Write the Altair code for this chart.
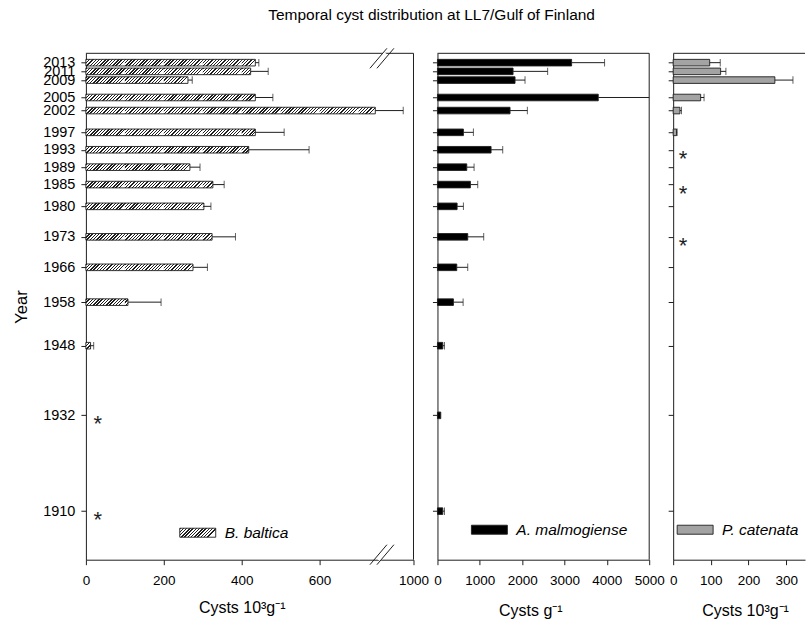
import altair as alt

# ---- data -----------------------------------------------------------------
YEARS = [1910, 1932, 1948, 1958, 1966, 1973, 1980, 1985,
         1989, 1993, 1997, 2002, 2005, 2009, 2011, 2013]

# B. baltica, cysts 10^3 g^-1 (None = not found)
BALTICA = [None, None, 12, 108, 275, 324, 303, 326,
           267, 418, 435, 743, 435, 262, 423, 435]
BALTICA_ERR = [None, None, 8, 85, 37, 60, 18, 29,
               26, 155, 74, 179, 45, 11, 45, 9]
BALTICA_ABSENT = [1910, 1932]

# A. malmogiense, cysts g^-1
MALMO = [126, 78, 126, 377, 456, 715, 464, 778,
         692, 1266, 613, 1714, 3797, 1832, 1785, 3168]
MALMO_ERR = [39, None, 39, 229, 259, 377, 149, 173,
             173, 275, 236, 409, 1800, 236, 817, 778]

# P. catenata, cysts 10^3 g^-1
CATENATA = [None, None, None, None, None, None, None, None,
            None, None, 9, 18, 73, 270, 126, 97]
CATENATA_ERR = [None, None, None, None, None, None, None, None,
                None, None, 1.5, 4, 9, 48, 14, 28]
CATENATA_ABSENT = [1973, 1985, 1993]

SPECIES = ["B. baltica", "A. malmogiense", "P. catenata"]
X_TITLES = ["Cysts 10\u00b3g\u207b\u00b9", "Cysts g\u207b\u00b9", "Cysts 10\u00b3g\u207b\u00b9"]
X_TICKS = [[0, 200, 400, 600, 1000], [0, 1000, 2000, 3000, 4000, 5000], [0, 100, 200, 300]]

# ---- layout ---------------------------------------------------------------
FONT = "Liberation Sans"
INK = "#1e1e1e"
H = 507
W1, W2, W3 = 328, 212, 132
BAR = 6.6

# broken x axis of the first panel: 0-760 linear, 760-1000 compressed
BREAK = 760
BREAK_PX = 296.4
X1_DOMAIN = [0, BREAK, 1000]
X1_RANGE = [0, BREAK_PX, W1]
CHUNK = 100                      # hatched bars are filled in 100-unit pieces
PERIOD = CHUNK * BREAK_PX / BREAK / 12   # 12 hatch lines per piece

Y_SCALE = alt.Scale(domain=[1900, 2014], nice=False, zero=False)


def px_panel1(v):
    if v <= BREAK:
        return v * BREAK_PX / BREAK
    return BREAK_PX + (v - BREAK) * (W1 - BREAK_PX) / (1000 - BREAK)


def hatch(width_px, height_px, period=PERIOD, ink=0.42):
    """Diagonal '/' hatching as a hard-stop linear gradient over a box."""
    r = height_px / max(width_px, 0.3)
    span = width_px * (1 + r * r)
    stops, k = [], 0
    while k * period < span:
        a = k * period / span
        b = min((k + ink) * period / span, 1)
        c = min((k + 1) * period / span, 1)
        stops += [{"offset": a, "color": INK}, {"offset": b, "color": INK},
                  {"offset": b, "color": "#ffffff"}, {"offset": c, "color": "#ffffff"}]
        k += 1
    return {"gradient": "linear", "x1": 0, "y1": 0, "x2": 1, "y2": r, "stops": stops}


def rows(values, errors):
    out = []
    for yr, v, e in zip(YEARS, values, errors):
        if v is None:
            continue
        row = {"year": yr, "v": v}
        if e is not None:
            row["hi"] = v + e
        out.append(row)
    return out


def hatch_pieces(values):
    out = []
    for yr, v in zip(YEARS, values):
        if v is None:
            continue
        a = 0
        while a < v:
            b = min(a + CHUNK, v)
            out.append({"year": yr, "a": a, "b": b,
                        "pattern": hatch(px_panel1(b) - px_panel1(a), BAR)})
            a = b
    return out


def y_axis(labels):
    if labels:
        return alt.Axis(values=YEARS, format="d", title="Year", labels=True,
                        labelOverlap=False, labelFontSize=14.5, labelPadding=6,
                        labelColor="black", titleFontSize=16.5, titleFontWeight="normal",
                        titlePadding=13, titleColor="black", tickSize=5, grid=False)
    return alt.Axis(values=YEARS, title=None, labels=False, tickSize=5, grid=False)


def x_axis(i, title_x, title_pad):
    return alt.Axis(values=X_TICKS[i], format="d", title=X_TITLES[i], labelFontSize=13.5,
                    labelColor="black", labelPadding=9, labelOverlap=False,
                    labelFlush=False, tickSize=5, grid=False,
                    titleFontSize=16, titleFontWeight="normal", titleColor="black",
                    titlePadding=title_pad, titleX=title_x, titleAlign="center",
                    titleAnchor="start")


def panel(i, data, x_scale, width, bar_fill, title_x, title_pad,
          absent=None, absent_x=12, legend_x=0, legend_y=480, legend_fill=None,
          right_border=True, show_labels=False, pieces=None):
    xa = x_axis(i, title_x, title_pad)
    ya = y_axis(show_labels)
    base = alt.Chart(alt.Data(values=data))
    xq = lambda f: alt.X(f, scale=x_scale, axis=xa)
    yq = alt.Y("year:Q", scale=Y_SCALE, axis=ya)

    layers = []
    if pieces is not None:
        layers.append(alt.Chart(alt.Data(values=pieces)).mark_bar(
            orient="horizontal", size=BAR, strokeWidth=0).encode(
            x=xq("a:Q"), x2="b:Q", y=yq, fill=alt.Fill("pattern:N", scale=None)))
        layers.append(base.mark_bar(orient="horizontal", size=BAR, fillOpacity=0,
                                    stroke=INK, strokeWidth=0.9).encode(
            x=xq("v:Q"), x2=alt.datum(0), y=yq))
    else:
        layers.append(base.mark_bar(orient="horizontal", size=BAR, fill=bar_fill,
                                    stroke=INK, strokeWidth=0.9).encode(
            x=xq("v:Q"), x2=alt.datum(0), y=yq))

    err = base.transform_filter("isValid(datum.hi)")
    layers.append(err.mark_rule(color=INK, strokeWidth=1, clip=True).encode(
        x=xq("v:Q"), x2="hi:Q", y=yq))
    layers.append(err.mark_tick(color=INK, orient="vertical", size=7.5, thickness=1,
                                clip=True).encode(x=xq("hi:Q"), y=yq))

    if absent:
        layers.append(alt.Chart(alt.Data(values=[{"year": y} for y in absent])).mark_text(
            text="*", font=FONT, fontSize=22, color=INK, baseline="middle", dy=9
        ).encode(x=alt.value(absent_x), y=yq))

    one = alt.Data(values=[{}])
    layers.append(alt.Chart(one).mark_rule(color=INK, strokeWidth=1).encode(y=alt.value(0)))
    if right_border:
        layers.append(alt.Chart(one).mark_rule(color=INK, strokeWidth=1).encode(
            x=alt.value(width)))

    # legend swatch and species name
    swatch_w = 36
    layers.append(alt.Chart(one).mark_rect(
        fill=legend_fill, stroke=INK, strokeWidth=0.9).encode(
        x=alt.value(legend_x), x2=alt.value(legend_x + swatch_w),
        y=alt.value(legend_y - 4.5), y2=alt.value(legend_y + 4.5)))
    layers.append(alt.Chart(one).mark_text(
        text=SPECIES[i], font=FONT, fontSize=15.5, fontStyle="italic", color="black",
        align="left", baseline="middle", clip=True).encode(
        x=alt.value(legend_x + swatch_w + 9), y=alt.value(legend_y)))

    return layers, xa, ya


# ---- panel 1: B. baltica (broken axis) -------------------------------------
p1_data = rows(BALTICA, BALTICA_ERR)
x1_scale = alt.Scale(domain=X1_DOMAIN, range=X1_RANGE, nice=False, zero=False)
layers1, xa1, ya1 = panel(0, p1_data, x1_scale, W1, None, title_x=156, title_pad=12,
                          absent=BALTICA_ABSENT, absent_x=12, legend_x=94, legend_y=480,
                          legend_fill=hatch(36, 9), show_labels=True,
                          pieces=hatch_pieces(BALTICA))

# axis-break marks on the top and bottom edges
brk = alt.Chart(alt.Data(values=[{"yb": 2014}, {"yb": 1900}]))
bx = alt.XDatum(BREAK, scale=x1_scale, axis=xa1)
bx2 = alt.X2Datum(BREAK)
by = alt.Y("yb:Q", scale=Y_SCALE, axis=ya1)
mask = brk.mark_rule(color="white", strokeWidth=6, xOffset=-4, x2Offset=4,
                     yOffset=5, y2Offset=-5).encode(x=bx, x2=bx2, y=by, y2="yb:Q")
slash_a = brk.mark_rule(color=INK, strokeWidth=1, xOffset=-12, x2Offset=5,
                        yOffset=10, y2Offset=-10).encode(x=bx, x2=bx2, y=by, y2="yb:Q")
slash_b = brk.mark_rule(color=INK, strokeWidth=1, xOffset=-5, x2Offset=12,
                        yOffset=10, y2Offset=-10).encode(x=bx, x2=bx2, y=by, y2="yb:Q")
layers1 += [mask, slash_a, slash_b]
panel1 = alt.layer(*layers1).properties(width=W1, height=H)

# ---- panel 2: A. malmogiense ----------------------------------------------
p2_data = rows(MALMO, MALMO_ERR)
x2_scale = alt.Scale(domain=[0, 5000], nice=False, zero=True)
layers2, _, _ = panel(1, p2_data, x2_scale, W2, "#000000", title_x=93, title_pad=15,
                      legend_x=34, legend_y=477, legend_fill="#000000")
panel2 = alt.layer(*layers2).properties(width=W2, height=H)

# ---- panel 3: P. catenata -------------------------------------------------
p3_data = rows(CATENATA, CATENATA_ERR)
x3_scale = alt.Scale(domain=[0, 350], nice=False, zero=True)
layers3, _, _ = panel(2, p3_data, x3_scale, W3, "#a3a3a3", title_x=72, title_pad=15,
                      absent=CATENATA_ABSENT, absent_x=10, legend_x=4, legend_y=477,
                      legend_fill="#a3a3a3", right_border=False)
panel3 = alt.layer(*layers3).properties(width=W3, height=H)

chart = alt.hconcat(panel1, panel2, panel3, spacing=24, bounds="flush").properties(
    title=alt.TitleParams("Temporal cyst distribution at LL7/Gulf of Finland",
                          font=FONT, fontSize=15.5, fontWeight="normal", color="black",
                          anchor="middle", offset=24, dx=22),
    padding={"left": 13, "top": 7, "right": 0, "bottom": 0},
).configure(font=FONT).configure_view(stroke=None).configure_axis(
    domainColor=INK, tickColor=INK, domainWidth=1, tickWidth=1,
    labelFont=FONT, titleFont=FONT)

chart.save("out.html", embed_options={"renderer": "svg", "actions": False})
